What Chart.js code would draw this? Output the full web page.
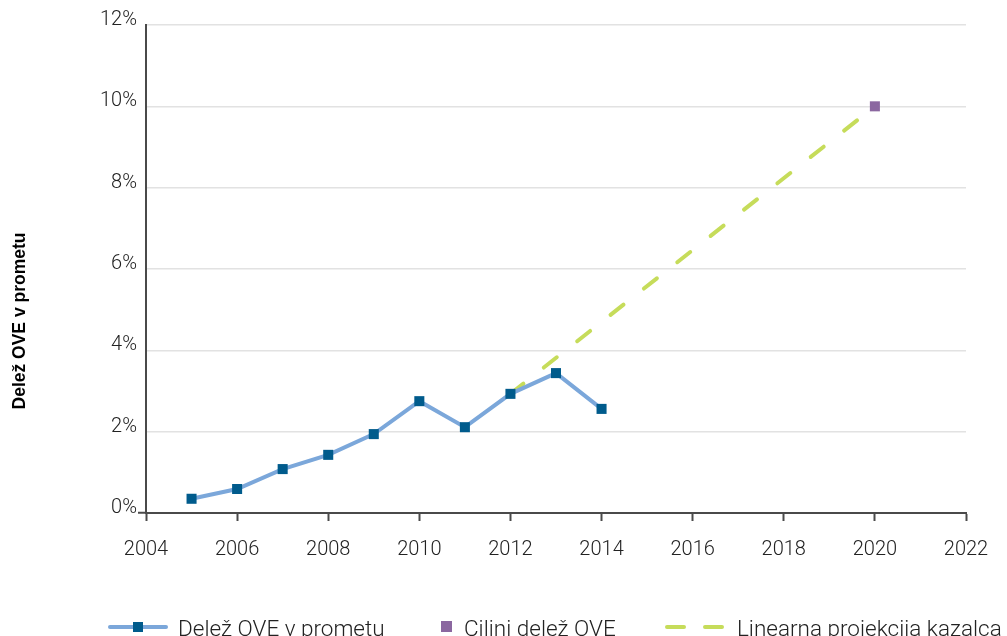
<!DOCTYPE html>
<html>
<head>
<meta charset="utf-8">
<script src="https://cdn.jsdelivr.net/npm/chart.js@4.4.1/dist/chart.umd.min.js"></script>
<style>
  html, body { margin: 0; padding: 0; background: #ffffff; }
  #wrap { width: 1007px; height: 636px; position: relative; }
</style>
</head>
<body>
<div id="wrap"><canvas id="chart"></canvas></div>
<script>
// Delež obnovljivih virov energije (OVE) v prometu
const years = [2005, 2006, 2007, 2008, 2009, 2010, 2011, 2012, 2013, 2014];
const shareValues = [0.35, 0.59, 1.08, 1.43, 1.94, 2.75, 2.11, 2.93, 3.44, 2.56];
const targetYears = [2020];
const targetValues = [10];
const projectionYears = [2012, 2020];
const projectionValues = [2.93, 10];
const xTickValues = [2004, 2006, 2008, 2010, 2012, 2014, 2016, 2018, 2020, 2022];
const yTickValues = [0, 2, 4, 6, 8, 10, 12];
const seriesNames = ['Delež OVE v prometu', 'Ciljni delež OVE', 'Linearna projekcija kazalca'];
const yAxisTitle = 'Delež OVE v prometu';

const toPoints = (xs, ys) => xs.map((x, i) => ({ x: x, y: ys[i] }));

const TICK_FONT = { family: 'Roboto', size: 20, weight: '300' };
const TEXT_COLOR = '#222222';
const AXIS_COLOR = '#4a4a4a';
const GRID_COLOR = '#e2e2e2';

// Legend row drawn under the plot: line with marker, square, dashed line
const bottomLegend = {
  id: 'bottomLegend',
  afterDraw(chart) {
    const ctx = chart.ctx;
    const ds = chart.data.datasets;
    const cy = 627;
    ctx.save();
    ctx.font = '300 22.5px Roboto';
    ctx.fillStyle = TEXT_COLOR;
    ctx.textBaseline = 'alphabetic';
    ctx.textAlign = 'left';

    // 1: line with square marker
    ctx.strokeStyle = ds[0].borderColor;
    ctx.lineWidth = ds[0].borderWidth;
    ctx.lineCap = 'round';
    ctx.beginPath(); ctx.moveTo(110, cy); ctx.lineTo(166, cy); ctx.stroke();
    ctx.fillStyle = ds[0].pointBackgroundColor;
    ctx.fillRect(133, cy - 5, 10, 10);
    ctx.fillStyle = TEXT_COLOR;
    ctx.fillText(ds[0].label, 178, 636);

    // 2: square
    ctx.fillStyle = ds[1].pointBackgroundColor;
    ctx.fillRect(441, cy - 6, 11, 11);
    ctx.fillStyle = TEXT_COLOR;
    ctx.fillText(ds[1].label, 464, 636);

    // 3: dashed line
    ctx.strokeStyle = ds[2].borderColor;
    ctx.lineWidth = ds[2].borderWidth;
    ctx.setLineDash([17, 21]);
    ctx.beginPath(); ctx.moveTo(667, cy); ctx.lineTo(724, cy); ctx.stroke();
    ctx.setLineDash([]);
    ctx.fillStyle = TEXT_COLOR;
    ctx.fillText(ds[2].label, 737, 636);
    ctx.restore();
  }
};

// Vertical axis title on the left edge
const sideTitle = {
  id: 'sideTitle',
  afterDraw(chart) {
    const ctx = chart.ctx;
    ctx.save();
    ctx.translate(25, 321);
    ctx.rotate(-Math.PI / 2);
    ctx.font = 'bold 17.5px "Liberation Sans", Arial, sans-serif';
    ctx.fillStyle = '#000000';
    ctx.textAlign = 'center';
    ctx.textBaseline = 'alphabetic';
    ctx.fillText(yAxisTitle, 0, 0);
    ctx.restore();
  }
};

new Chart(document.getElementById('chart'), {
  type: 'line',
  data: {
    datasets: [
      {
        label: seriesNames[0],
        data: toPoints(years, shareValues),
        borderColor: '#7ba7da',
        borderWidth: 4,
        pointStyle: 'rect',
        pointRadius: 7.1,
        pointHoverRadius: 7.1,
        pointBorderWidth: 0,
        pointBackgroundColor: '#005b8c',
        pointBorderColor: '#005b8c',
        tension: 0
      },
      {
        label: seriesNames[1],
        data: toPoints(targetYears, targetValues),
        showLine: false,
        pointStyle: 'rect',
        pointRadius: 7.1,
        pointHoverRadius: 7.1,
        pointBorderWidth: 0,
        pointBackgroundColor: '#8b67a0',
        pointBorderColor: '#8b67a0',
        borderColor: '#8b67a0'
      },
      {
        label: seriesNames[2],
        data: toPoints(projectionYears, projectionValues),
        borderColor: '#c6dc5a',
        borderWidth: 4,
        borderDash: [16.5, 26],
        borderCapStyle: 'round',
        pointRadius: 0,
        pointHoverRadius: 0,
        tension: 0
      }
    ]
  },
  options: {
    responsive: true,
    maintainAspectRatio: false,
    animation: false,
    devicePixelRatio: 1,
    layout: { padding: { top: 25, right: 41, bottom: 0, left: 0 } },
    plugins: {
      legend: { display: false },
      tooltip: { enabled: false },
      title: { display: false }
    },
    scales: {
      x: {
        type: 'linear',
        min: 2004,
        max: 2022,
        afterBuildTicks: (scale) => { scale.ticks = xTickValues.map(v => ({ value: v })); },
        afterFit: (scale) => { scale.height = 123; },
        ticks: {
          callback: (v) => String(v),
          font: TICK_FONT,
          color: TEXT_COLOR,
          padding: 17,
          maxRotation: 0,
          autoSkip: false
        },
        grid: {
          drawOnChartArea: false,
          drawTicks: true,
          tickLength: 8,
          tickColor: AXIS_COLOR,
          tickWidth: 2,
          color: AXIS_COLOR
        },
        border: { display: true, color: AXIS_COLOR, width: 2 }
      },
      y: {
        type: 'linear',
        min: 0,
        max: 12,
        afterBuildTicks: (scale) => { scale.ticks = yTickValues.map(v => ({ value: v })); },
        afterFit: (scale) => { scale.width = 146; },
        ticks: {
          callback: (v) => v + '%',
          font: TICK_FONT,
          color: TEXT_COLOR,
          padding: 1,
          labelOffset: -5
        },
        grid: {
          drawTicks: true,
          tickLength: 8,
          lineWidth: 1.5,
          color: (c) => (c.tick && c.tick.value === 0) ? 'rgba(0,0,0,0)' : GRID_COLOR,
          tickColor: (c) => (c.tick && c.tick.value === 0) ? AXIS_COLOR : 'rgba(0,0,0,0)',
          tickWidth: 2
        },
        border: { display: true, color: AXIS_COLOR, width: 2 }
      }
    }
  },
  plugins: [bottomLegend, sideTitle]
});
</script>
</body>
</html>
